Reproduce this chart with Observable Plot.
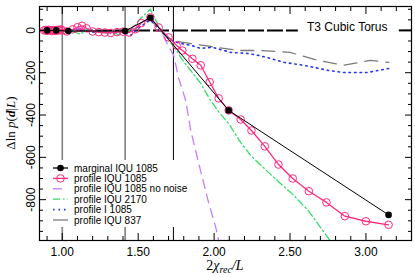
<!DOCTYPE html>
<html><head><meta charset="utf-8">
<script src="https://cdn.jsdelivr.net/npm/d3@7"></script>
<script src="https://cdn.jsdelivr.net/npm/@observablehq/plot@0.6"></script>
<style>body{margin:0;background:#fff}</style>
</head><body><div id="chart"></div>
<script>
// ---- data ----
const xDomain = [0.85, 3.30];
const yDomain = [-993, 113];
const xMajor = [1.0, 1.5, 2.0, 2.5, 3.0];
const xMinor = [0.9,1.1,1.2,1.3,1.4,1.6,1.7,1.8,1.9,2.1,2.2,2.3,2.4,2.6,2.7,2.8,2.9,3.1,3.2,3.3];
const yMajor = [-800, -600, -400, -200, 0];
const yMinor = [-950,-900,-850,-750,-700,-650,-550,-500,-450,-350,-300,-250,-150,-100,-50,50,100];
const refLinesGray = [1.0, 1.414];
const refLinesBlack = [1.732];
const zeroSegments = [{x1: 0.85, x2: 2.555}, {x1: 3.22, x2: 3.30}];
const title = "T3 Cubic Torus";

const marginalX = [0.90,0.96,1.04,1.414,1.58,2.096,3.149];
const marginalY = [0,0,-3,-3,60,-378,-872];

const profileX = [0.88,0.89,0.90,0.91,0.92,0.93,0.94,0.95,0.96,0.97,0.98,0.99,1.00,1.03,1.07,1.10,1.13,1.16,1.20,1.24,1.28,1.32,1.36,1.40,1.44,1.48,1.52,1.58,1.635,1.70,1.753,1.791,1.857,1.912,1.971,2.03,2.096,2.175,2.246,2.334,2.424,2.518,2.624,2.740,2.861,3.0,3.149];
const profileY = [0,2,-2,3,0,-3,2,0,-2,3,0,5,0,-5,5,15,22,10,-5,-8,-10,-12,-8,-6,-10,5,35,62,14,-33,-71,-95,-134,-165,-244,-321,-378,-421,-473,-548,-634,-700,-760,-813,-878,-902,-919];

const noNoiseX = [0.88,0.92,0.96,1.00,1.05,1.10,1.15,1.20,1.25,1.30,1.35,1.40,1.45,1.50,1.58,1.635,1.70,1.734,1.767,1.813,1.846,1.899,1.965,2.011,2.05];
const noNoiseY = [0,2,-2,0,-4,8,12,-3,-8,-10,-6,-8,-6,20,62,15,-75,-118,-227,-331,-473,-629,-818,-931,-1060];

const p2170X = [0.88,0.92,0.96,1.00,1.05,1.09,1.12,1.16,1.22,1.28,1.33,1.37,1.42,1.47,1.52,1.58,1.635,1.70,1.753,1.791,1.857,1.912,1.971,2.03,2.096,2.175,2.246,2.334,2.424,2.518,2.624,2.740,2.861];
const p2170Y = [0,3,-3,0,-5,-10,-19,5,-8,-12,-10,-20,-10,15,60,100,20,-45,-95,-140,-200,-250,-325,-385,-440,-530,-595,-655,-715,-775,-855,-970,-1090];

const pIX = [0.88,0.92,0.96,1.00,1.05,1.10,1.15,1.20,1.25,1.30,1.35,1.40,1.45,1.50,1.58,1.635,1.70,1.77,1.85,1.91,1.99,2.11,2.22,2.29,2.35,2.46,2.59,2.66,2.75,2.85,3.01,3.15];
const pIY = [0,-2,2,0,-6,4,-2,-8,-5,-10,-12,-8,-24,10,50,5,-40,-60,-71,-85,-80,-104,-109,-118,-128,-151,-165,-175,-189,-199,-199,-180];

const p837X = [0.88,0.94,1.00,1.08,1.16,1.24,1.32,1.40,1.48,1.58,1.635,1.70,1.76,1.93,2.16,2.31,2.50,2.66,2.85,3.03,3.15];
const p837Y = [0,2,0,-4,5,-6,-8,-5,10,55,5,-35,-52,-71,-95,-95,-104,-137,-165,-142,-151];

// ---- build tables ----
const rows = (xs, ys) => xs.map((x, i) => ({x, y: ys[i]}));
const marginal = rows(marginalX, marginalY);
const profile = rows(profileX, profileY);
const noNoise = rows(noNoiseX, noNoiseY);
const p2170 = rows(p2170X, p2170Y);
const pI = rows(pIX, pIY);
const p837 = rows(p837X, p837Y);

const C = {pink: "#ff2a7f", purple: "#c87dff", green: "#33dd66", blue: "#2233ee", gray: "#7a7a7a"};
const DOT = "1.5,4";
const blank = () => "";

const chart = Plot.plot({
  width: 415, height: 277,
  marginTop: 6, marginRight: 4, marginBottom: 37, marginLeft: 39,
  x: {domain: xDomain},
  y: {domain: yDomain},
  style: {fontFamily: "'Liberation Sans', Arial, sans-serif", fontSize: "12px", color: "black", background: "white", overflow: "visible"},
  marks: [
    Plot.ruleX(refLinesGray, {stroke: "#7f7f7f", strokeWidth: 1.6}),
    Plot.ruleX(refLinesBlack, {stroke: "black", strokeWidth: 1}),
    Plot.ruleY(zeroSegments, {y: () => 0, x1: "x1", x2: "x2", stroke: "black", strokeWidth: 2, strokeDasharray: "16,3"}),
    Plot.text([title], {frameAnchor: "top-right", dx: -24, dy: 21, textAnchor: "end", lineAnchor: "middle", fontSize: 12}),
    Plot.line(p837, {x: "x", y: "y", stroke: C.gray, strokeWidth: 1.3, strokeDasharray: "13,8", clip: true}),
    Plot.line(pI, {x: "x", y: "y", stroke: C.blue, strokeWidth: 1.6, strokeDasharray: DOT, clip: true}),
    Plot.line(p2170, {x: "x", y: "y", stroke: C.green, strokeWidth: 1.3, strokeDasharray: "7,3,1.5,3", clip: true}),
    Plot.line(noNoise, {x: "x", y: "y", stroke: C.purple, strokeWidth: 1.3, strokeDasharray: "9,6", clip: true}),
    Plot.line(profile, {x: "x", y: "y", stroke: C.pink, strokeWidth: 1.3, clip: true}),
    Plot.dot(profile, {x: "x", y: "y", r: 3.8, stroke: C.pink, strokeWidth: 1, fill: "none", clip: true}),
    Plot.line(marginal, {x: "x", y: "y", stroke: "black", strokeWidth: 1, clip: true}),
    Plot.dot(marginal, {x: "x", y: "y", r: 3.3, fill: "black", clip: true}),
    Plot.frame({stroke: "black", strokeWidth: 1.2}),
    // bottom axis
    Plot.axisX({ticks: xMajor, tickSize: 0, tickPadding: 7, tickFormat: d3.format(".2f"), label: null, fontSize: 12}),
    Plot.axisX({ticks: xMajor, tickSize: -7, tickFormat: blank, label: null}),
    Plot.axisX({ticks: xMinor, tickSize: -4, tickFormat: blank, label: null}),
    Plot.axisX({anchor: "top", ticks: xMajor, tickSize: -7, tickFormat: blank, label: null}),
    Plot.axisX({anchor: "top", ticks: xMinor, tickSize: -4, tickFormat: blank, label: null}),
    // left axis
    Plot.axisY({ticks: yMajor, tickSize: 0, tickPadding: 5, tickRotate: -90, tickFormat: d => String(d), label: null, fontSize: 12}),
    Plot.axisY({ticks: yMajor, tickSize: -7, tickFormat: blank, label: null}),
    Plot.axisY({ticks: yMinor, tickSize: -4, tickFormat: blank, label: null}),
    Plot.axisY({anchor: "right", ticks: yMajor, tickSize: -7, tickFormat: blank, label: null}),
    Plot.axisY({anchor: "right", ticks: yMinor, tickSize: -4, tickFormat: blank, label: null})
  ]
});

document.getElementById("chart").appendChild(chart);

// ---- axis titles (rich text) ----
const svg = d3.select(chart);
const serif = "'Liberation Serif', 'Times New Roman', serif";
const xl = svg.append("text").attr("x", 225).attr("y", 270).attr("text-anchor", "middle")
  .attr("font-family", serif).attr("font-size", 14).attr("fill", "black");
xl.append("tspan").text("2");
xl.append("tspan").attr("font-style", "italic").text("χ");
xl.append("tspan").attr("font-style", "italic").attr("font-size", 10).attr("dy", 3).text("rec");
xl.append("tspan").attr("font-style", "italic").attr("dy", -3).text("/L");

const yl = svg.append("text").attr("transform", "translate(15,123) rotate(-90)").attr("text-anchor", "middle")
  .attr("font-family", serif).attr("font-size", 13).attr("fill", "black");
yl.append("tspan").text("Δln ");
yl.append("tspan").attr("font-style", "italic").text("p");
yl.append("tspan").text("(");
yl.append("tspan").attr("font-style", "italic").attr("font-weight", "bold").text("d");
yl.append("tspan").text("|");
yl.append("tspan").attr("font-style", "italic").text("L");
yl.append("tspan").text(")");

// ---- legend ----
const legendItems = [
  {label: "marginal IQU 1085", stroke: "black", dash: null, marker: "filled"},
  {label: "profile IQU 1085", stroke: C.pink, dash: null, marker: "open"},
  {label: "profile IQU 1085 no noise", stroke: C.purple, dash: "9,6", marker: null},
  {label: "profile IQU 2170", stroke: C.green, dash: "7,3,1.5,3", marker: null},
  {label: "profile I 1085", stroke: C.blue, dash: DOT, marker: null},
  {label: "profile IQU 837", stroke: C.gray, dash: null, marker: null}
];
const lg = svg.append("g").attr("font-family", "'Liberation Sans', Arial, sans-serif")
  .attr("font-size", 10).attr("text-anchor", "start");
lg.append("rect").attr("x", 50).attr("y", 160).attr("width", 142).attr("height", 67)
  .attr("fill", "white").attr("stroke", "none");
legendItems.forEach((it, i) => {
  const cy = 168 + i * 10.4;
  lg.append("line").attr("x1", 53).attr("x2", 68).attr("y1", cy).attr("y2", cy)
    .attr("stroke", it.stroke).attr("stroke-width", it.dash === DOT ? 1.6 : 1.3)
    .attr("stroke-dasharray", it.dash);
  if (it.marker === "filled") lg.append("circle").attr("cx", 60.5).attr("cy", cy).attr("r", 3.3).attr("fill", "black");
  if (it.marker === "open") lg.append("circle").attr("cx", 60.5).attr("cy", cy).attr("r", 3.8).attr("fill", "none").attr("stroke", it.stroke);
  lg.append("text").attr("x", 74).attr("y", cy).attr("dy", "0.35em").attr("text-anchor", "start")
    .attr("fill", "black").attr("textLength", null).text(it.label);
});
</script></body></html>
